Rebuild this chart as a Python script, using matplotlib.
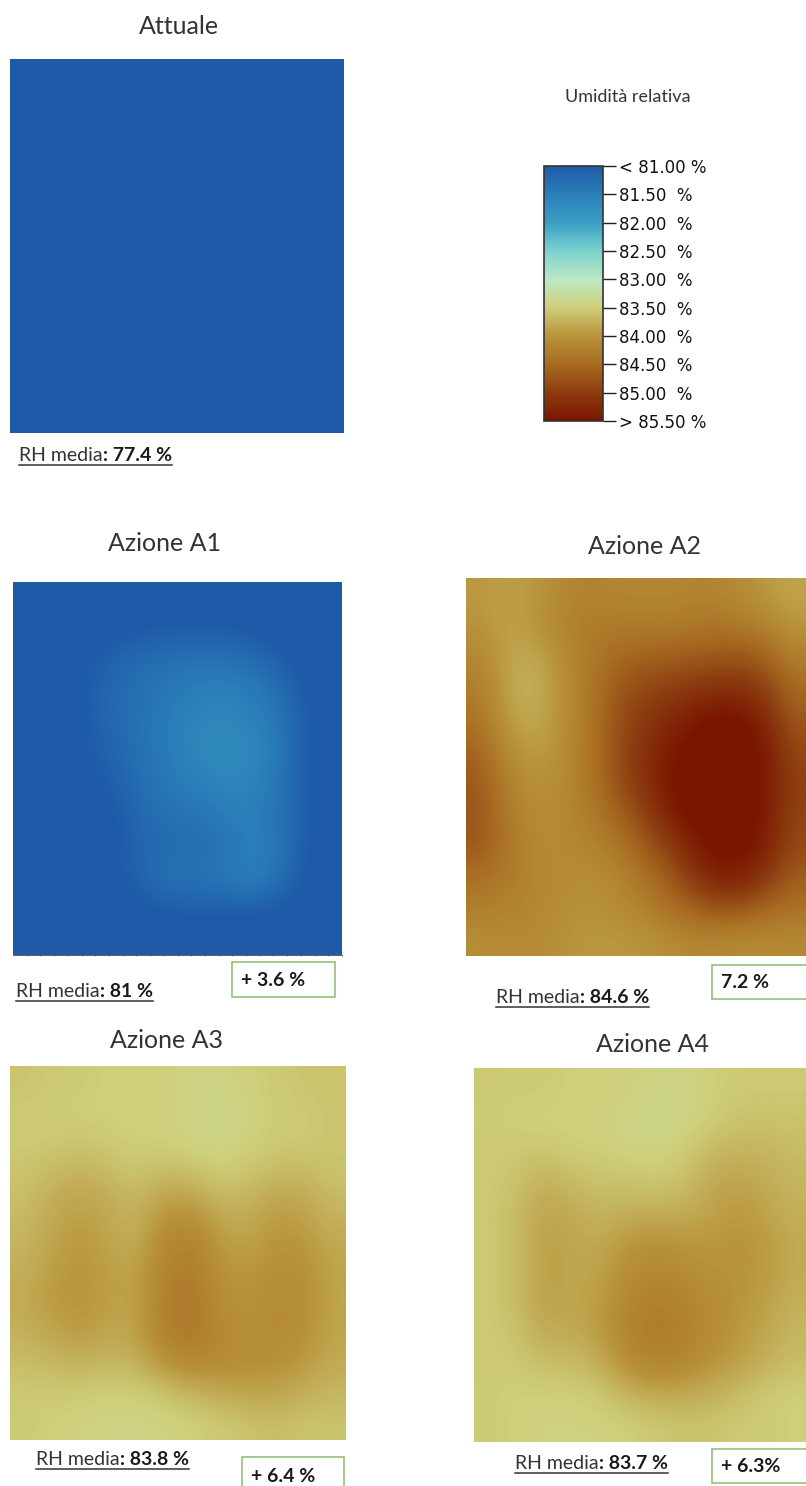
import numpy as np
from matplotlib import pyplot as plt
from matplotlib.colors import LinearSegmentedColormap, Normalize
from matplotlib.cm import ScalarMappable
from matplotlib.lines import Line2D
from matplotlib.patches import Rectangle

W, H = 806, 1486

cbar_values = [81.0, 81.5, 82.0, 82.5, 83.0, 83.5, 84.0, 84.5, 85.0, 85.5]
cbar_colors = ['#1f5aa8', '#2a7fb9', '#3b9fc4', '#7dd3cf', '#bde8c2',
               '#cfd07c', '#b8933a', '#a86c22', '#8c3c10', '#7a1500']
cbar_labels = ['< 81.00 %', '81.50  %', '82.00  %', '82.50  %', '83.00  %',
               '83.50  %', '84.00  %', '84.50  %', '85.00  %', '> 85.50 %']

attuale = [[80.8, 80.8], [80.8, 80.8]]

a1 = [
    [80.8, 80.8, 80.8, 80.8, 80.8, 80.8, 80.8, 80.8, 80.8, 80.8, 80.8, 80.8],
    [80.8, 80.8, 80.8, 80.9, 81.0, 81.05, 81.05, 81.05, 81.0, 80.9, 80.8, 80.8],
    [80.8, 80.8, 80.95, 81.15, 81.25, 81.3, 81.35, 81.35, 81.3, 81.15, 80.95, 80.8],
    [80.8, 80.8, 81.0, 81.2, 81.3, 81.4, 81.5, 81.55, 81.5, 81.35, 81.05, 80.85],
    [80.8, 80.8, 81.0, 81.2, 81.3, 81.45, 81.6, 81.65, 81.6, 81.45, 81.1, 80.9],
    [80.8, 80.8, 80.95, 81.15, 81.3, 81.45, 81.6, 81.7, 81.65, 81.5, 81.1, 80.9],
    [80.8, 80.8, 80.9, 81.05, 81.25, 81.4, 81.5, 81.6, 81.6, 81.45, 81.1, 80.85],
    [80.8, 80.8, 80.85, 80.95, 81.2, 81.3, 81.35, 81.45, 81.55, 81.4, 81.1, 80.85],
    [80.8, 80.8, 80.8, 80.9, 81.15, 81.25, 81.25, 81.3, 81.5, 81.45, 81.1, 80.85],
    [80.8, 80.8, 80.8, 80.9, 81.15, 81.35, 81.35, 81.4, 81.55, 81.4, 81.05, 80.8],
    [80.8, 80.8, 80.8, 80.85, 80.95, 81.05, 81.1, 81.1, 81.1, 81.05, 80.9, 80.8],
    [80.8, 80.8, 80.8, 80.8, 80.8, 80.8, 80.8, 80.8, 80.8, 80.8, 80.8, 80.8],
]

a2 = [
    [83.95, 83.9, 83.95, 84.15, 84.2, 84.15, 84.15, 84.15, 84.2, 84.1, 83.95, 83.85],
    [84.0, 83.85, 84.0, 84.2, 84.3, 84.3, 84.3, 84.3, 84.35, 84.35, 84.2, 83.95],
    [84.15, 83.85, 83.8, 84.1, 84.35, 84.55, 84.6, 84.65, 84.7, 84.75, 84.65, 84.25],
    [84.3, 83.8, 83.75, 84.05, 84.4, 84.75, 84.9, 85.0, 85.1, 85.15, 85.0, 84.5],
    [84.4, 83.9, 83.8, 84.05, 84.4, 84.85, 85.1, 85.3, 85.55, 85.6, 85.3, 84.7],
    [84.6, 84.05, 83.9, 84.05, 84.45, 84.85, 85.2, 85.5, 85.6, 85.6, 85.5, 84.85],
    [84.7, 84.2, 84.0, 84.1, 84.4, 84.85, 85.2, 85.6, 85.6, 85.6, 85.5, 84.95],
    [84.75, 84.3, 84.05, 84.15, 84.3, 84.65, 85.0, 85.5, 85.6, 85.6, 85.5, 84.9],
    [84.7, 84.35, 84.1, 84.1, 84.2, 84.35, 84.75, 85.1, 85.55, 85.6, 85.4, 84.85],
    [84.45, 84.3, 84.15, 84.1, 84.05, 84.2, 84.45, 84.8, 85.25, 85.4, 85.1, 84.65],
    [84.25, 84.2, 84.15, 84.05, 84.0, 84.1, 84.25, 84.5, 84.7, 84.75, 84.55, 84.4],
    [84.05, 84.1, 84.1, 84.0, 83.95, 83.95, 84.0, 84.1, 84.15, 84.1, 84.1, 84.1],
]

a3 = [
    [83.6, 83.55, 83.55, 83.5, 83.5, 83.5, 83.45, 83.45, 83.5, 83.55, 83.6, 83.6],
    [83.55, 83.55, 83.5, 83.5, 83.5, 83.5, 83.45, 83.42, 83.45, 83.55, 83.55, 83.6],
    [83.55, 83.55, 83.6, 83.55, 83.5, 83.5, 83.45, 83.42, 83.5, 83.55, 83.55, 83.6],
    [83.6, 83.7, 83.75, 83.7, 83.6, 83.7, 83.65, 83.55, 83.6, 83.7, 83.7, 83.6],
    [83.65, 83.8, 83.9, 83.8, 83.7, 83.95, 83.95, 83.75, 83.75, 83.9, 83.85, 83.7],
    [83.7, 83.85, 83.95, 83.85, 83.75, 84.1, 84.2, 83.9, 83.85, 84.0, 83.95, 83.8],
    [83.75, 83.9, 84.0, 83.9, 83.85, 84.2, 84.3, 84.0, 83.95, 84.05, 84.05, 83.85],
    [83.8, 83.95, 84.0, 83.9, 83.85, 84.25, 84.35, 84.05, 84.0, 84.1, 84.05, 83.85],
    [83.75, 83.85, 83.95, 83.85, 83.85, 84.25, 84.35, 84.1, 84.05, 84.1, 84.05, 83.85],
    [83.65, 83.7, 83.75, 83.7, 83.75, 84.0, 84.15, 84.1, 84.05, 84.05, 83.95, 83.8],
    [83.55, 83.55, 83.55, 83.5, 83.5, 83.6, 83.7, 83.8, 83.85, 83.85, 83.75, 83.7],
    [83.55, 83.5, 83.47, 83.45, 83.45, 83.45, 83.5, 83.55, 83.6, 83.65, 83.6, 83.6],
]

a4 = [
    [83.55, 83.55, 83.55, 83.5, 83.5, 83.5, 83.45, 83.45, 83.5, 83.55, 83.55, 83.55],
    [83.55, 83.5, 83.5, 83.5, 83.5, 83.45, 83.42, 83.42, 83.5, 83.6, 83.6, 83.6],
    [83.55, 83.55, 83.55, 83.5, 83.5, 83.45, 83.45, 83.5, 83.65, 83.7, 83.7, 83.65],
    [83.55, 83.6, 83.75, 83.65, 83.6, 83.6, 83.55, 83.6, 83.8, 83.85, 83.8, 83.7],
    [83.55, 83.65, 83.85, 83.8, 83.7, 83.75, 83.75, 83.75, 83.85, 83.95, 83.85, 83.75],
    [83.55, 83.65, 83.9, 83.85, 83.8, 83.95, 84.0, 83.95, 83.95, 84.0, 83.95, 83.8],
    [83.55, 83.65, 83.9, 83.85, 83.85, 84.05, 84.15, 84.1, 84.0, 84.0, 83.95, 83.8],
    [83.55, 83.65, 83.9, 83.85, 83.9, 84.15, 84.25, 84.2, 84.1, 84.0, 83.9, 83.75],
    [83.55, 83.6, 83.8, 83.8, 83.9, 84.2, 84.3, 84.25, 84.1, 83.95, 83.85, 83.7],
    [83.55, 83.55, 83.65, 83.65, 83.75, 84.05, 84.2, 84.15, 84.0, 83.9, 83.75, 83.65],
    [83.55, 83.5, 83.5, 83.5, 83.55, 83.7, 83.8, 83.8, 83.75, 83.65, 83.55, 83.5],
    [83.55, 83.5, 83.47, 83.47, 83.47, 83.5, 83.55, 83.6, 83.6, 83.55, 83.55, 83.5],
]

# title, grid, map box in px (x0, y0, x1, y1), title pos, rh text, rh baseline, delta, delta box
panels = [
    ('Attuale', attuale, (10, 59, 344, 433), (179, 27), '77.4 %', (19, 461), None, None),
    ('Azione A1', a1, (13, 582, 342, 955), (165, 544), '81 %', (16, 997), '+ 3.6 %', (232, 962, 335, 997)),
    ('Azione A2', a2, (466, 578, 806, 956), (645, 546), '84.6 %', (496, 1003), '7.2 %', (712, 965, 810, 999)),
    ('Azione A3', a3, (10, 1066, 346, 1440), (166, 1041), '83.8 %', (36, 1465), '+ 6.4 %', (242, 1457, 344, 1492)),
    ('Azione A4', a4, (474, 1068, 806, 1442), (652, 1045), '83.7 %', (515, 1469), '+ 6.3%', (712, 1449, 810, 1483)),
]

plt.rcParams['font.family'] = ['Lato', 'DejaVu Sans']
TXT = '#333333'

cmap = LinearSegmentedColormap.from_list(
    'rh', [((v - 81.0) / 4.5, c) for v, c in zip(cbar_values, cbar_colors)])
norm = Normalize(81.0, 85.5)

fig = plt.figure(figsize=(W / 100, H / 100), dpi=100, facecolor='white')


def px_axes(box):
    x0, y0, x1, y1 = box
    return fig.add_axes([x0 / W, 1 - y1 / H, (x1 - x0) / W, (y1 - y0) / H])


def px_text(x, y, s, **kw):
    return fig.text(x / W, 1 - y / H, s, **kw)


renderer = fig.canvas.get_renderer()

for title, grid, box, tpos, rh, rpos, delta, dbox in panels:
    ax = px_axes(box)
    ax.imshow(grid, cmap=cmap, norm=norm, aspect='auto', interpolation='bicubic')
    ax.axis('off')
    px_text(tpos[0], tpos[1], title, ha='center', va='center', fontsize=18,
            fontweight='normal', color=TXT)

    # label is two runs of text with a line under both
    t1 = px_text(rpos[0], rpos[1], 'RH media', fontsize=14, va='baseline', color=TXT)
    x = t1.get_window_extent(renderer).x1
    t2 = fig.text(x / W, 1 - rpos[1] / H, ': ' + rh, fontsize=14, va='baseline',
                  fontweight='bold', color='#1a1a1a')
    x = t2.get_window_extent(renderer).x1
    yl = 1 - (rpos[1] + 3.5) / H
    fig.add_artist(Line2D([rpos[0] / W, x / W], [yl, yl], color='#333333', lw=1.1))

    if delta:
        x0, y0, x1, y1 = dbox
        fig.add_artist(Rectangle((x0 / W, 1 - y1 / H), (x1 - x0) / W, (y1 - y0) / H,
                                 transform=fig.transFigure, fc='white',
                                 ec='#8cbc6c', lw=1.1))
        px_text(x0 + 9, (y0 + y1) / 2 + 1 if title != 'Azione A3' else y0 + 19, delta,
                fontsize=14, fontweight='bold', va='center', color='#1a1a1a')

# small ticks along the lower edge of A1
ax1 = fig.axes[1]
ax1.axis('on')
ax1.set_xticks(np.arange(0, 12, 0.5))
ax1.set_yticks([])
ax1.tick_params(axis='x', length=1, width=0.5, color='#555555', labelbottom=False)
for name, sp in ax1.spines.items():
    sp.set_visible(name == 'bottom')
    sp.set_color('#444444')
    sp.set_linewidth(0.6)

# colour scale
px_text(628, 97, 'Umidità relativa', ha='center', va='center', fontsize=13,
        fontweight='normal', color=TXT)
cax = px_axes((544, 166, 603, 421))
cb = fig.colorbar(ScalarMappable(norm=norm, cmap=cmap), cax=cax)
cb.set_ticks(cbar_values)
cb.set_ticklabels(cbar_labels, fontfamily='DejaVu Sans', fontsize=12, color='#111111')
cax.invert_yaxis()
cax.tick_params(length=9, width=1, color='#222222', pad=2.5)
cb.outline.set_edgecolor('#333333')
cb.outline.set_linewidth(1.2)

fig.savefig('out.png', dpi=100)
